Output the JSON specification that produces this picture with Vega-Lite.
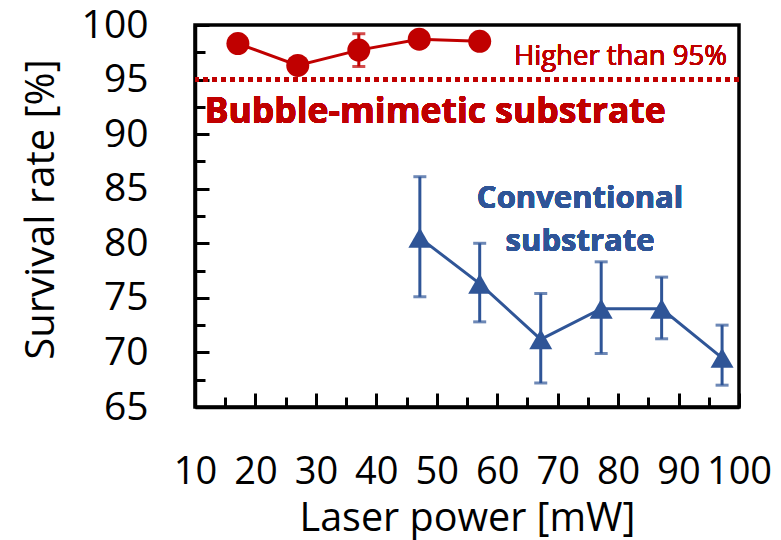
{
  "$schema": "https://vega.github.io/schema/vega-lite/v6.json",
  "width": 544,
  "height": 382,
  "autosize": {"type": "none"},
  "padding": {"left": 195, "top": 25, "right": 42, "bottom": 133},
  "background": "white",
  "config": {
    "view": {"stroke": "black", "strokeWidth": 3.5},
    "font": "Open Sans",
    "axis": {"grid": false, "labelFlush": false, "labelOverlap": false, "labelColor": "black", "titleColor": "black", "tickColor": "black", "domainColor": "black", "domainWidth": 3.5, "tickWidth": 3, "labelFont": "Open Sans", "titleFont": "Open Sans", "titleFontWeight": "normal"}
  },
  "datasets": {
    "survival": [
      {"substrate": "Bubble-mimetic", "power": 17.1, "rate": 98.3, "lo": 97.8, "hi": 98.8},
      {"substrate": "Bubble-mimetic", "power": 27.0, "rate": 96.3, "lo": 95.8, "hi": 96.8},
      {"substrate": "Bubble-mimetic", "power": 37.1, "rate": 97.7, "lo": 96.2, "hi": 99.2},
      {"substrate": "Bubble-mimetic", "power": 47.1, "rate": 98.7, "lo": 98.2, "hi": 99.2},
      {"substrate": "Bubble-mimetic", "power": 57.1, "rate": 98.5, "lo": 98.0, "hi": 99.0},
      {"substrate": "Conventional", "power": 47.2, "rate": 80.5, "lo": 75.1, "hi": 86.1},
      {"substrate": "Conventional", "power": 57.1, "rate": 76.3, "lo": 72.8, "hi": 80.0},
      {"substrate": "Conventional", "power": 67.2, "rate": 71.2, "lo": 67.2, "hi": 75.4},
      {"substrate": "Conventional", "power": 77.2, "rate": 74.0, "lo": 69.9, "hi": 78.3},
      {"substrate": "Conventional", "power": 87.2, "rate": 74.0, "lo": 71.25, "hi": 76.9},
      {"substrate": "Conventional", "power": 97.2, "rate": 69.5, "lo": 67.0, "hi": 72.5}
    ]
  },
  "data": {"name": "survival"},
  "resolve": {"axis": {"x": "independent", "y": "independent"}},
  "layer": [
    {
      "mark": {"type": "line", "strokeWidth": 3},
      "encoding": {
        "x": {"field": "power", "type": "quantitative", "scale": {"domain": [10, 100], "nice": false, "zero": false},
          "axis": {"orient": "bottom", "values": [15, 25, 35, 45, 55, 65, 75, 85, 95], "tickSize": -10, "labels": false, "domain": false, "title": null}},
        "y": {"field": "rate", "type": "quantitative", "scale": {"domain": [65, 100], "nice": false, "zero": false},
          "axis": {"orient": "left", "values": [67.5, 72.5, 77.5, 82.5, 87.5, 92.5, 97.5], "tickSize": -10, "labels": false, "domain": false, "title": null}},
        "color": {"field": "substrate", "type": "nominal", "scale": {"domain": ["Bubble-mimetic", "Conventional"], "range": ["#C00000", "#2F5597"]}, "legend": null}
      }
    },
    {
      "layer": [
        {
          "mark": {"type": "rule", "color": "#C00000", "strokeWidth": 5, "strokeDash": [5, 4]},
          "encoding": {"y": {"datum": 95, "type": "quantitative"}}
        },
        {
          "mark": {"type": "rule", "strokeWidth": 3},
          "encoding": {
            "x": {"field": "power", "type": "quantitative", "scale": {"domain": [10, 100], "nice": false, "zero": false},
              "axis": {"orient": "bottom", "values": [10, 20, 30, 40, 50, 60, 70, 80, 90, 100], "tickSize": -14, "labelFontSize": 38, "labelPadding": 60, "title": "Laser power [mW]", "titleFontSize": 39.5, "titleY": 123, "titleBaseline": "alphabetic"}},
            "y": {"field": "lo", "type": "quantitative", "scale": {"domain": [65, 100], "nice": false, "zero": false},
              "axis": {"orient": "left", "values": [65, 70, 75, 80, 85, 90, 95, 100], "tickSize": -14, "labelFontSize": 39, "labelPadding": 61, "title": "Survival rate [%]", "titleFontSize": 40, "titleX": -142, "titleY": 184, "titleBaseline": "alphabetic"}},
            "y2": {"field": "hi"},
            "color": {"field": "substrate", "type": "nominal", "scale": {"domain": ["Bubble-mimetic", "Conventional"], "range": ["#C00000", "#2F5597"]}, "legend": null}
          }
        },
        {
          "mark": {"type": "tick", "orient": "horizontal", "size": 13, "thickness": 3},
          "encoding": {
            "x": {"field": "power", "type": "quantitative"},
            "y": {"field": "lo", "type": "quantitative"},
            "color": {"field": "substrate", "type": "nominal", "legend": null}
          }
        },
        {
          "mark": {"type": "tick", "orient": "horizontal", "size": 13, "thickness": 3},
          "encoding": {
            "x": {"field": "power", "type": "quantitative"},
            "y": {"field": "hi", "type": "quantitative"},
            "color": {"field": "substrate", "type": "nominal", "legend": null}
          }
        },
        {
          "mark": {"type": "point", "filled": true, "opacity": 1, "size": 529},
          "encoding": {
            "x": {"field": "power", "type": "quantitative"},
            "y": {"field": "rate", "type": "quantitative"},
            "color": {"field": "substrate", "type": "nominal", "legend": null},
            "shape": {"field": "substrate", "type": "nominal", "scale": {"domain": ["Bubble-mimetic", "Conventional"], "range": ["circle", "triangle-up"]}, "legend": null}
          }
        },
        {
          "mark": {"type": "text", "align": "right", "baseline": "alphabetic", "fontSize": 27.5, "color": "#C00000"},
          "encoding": {"x": {"datum": 98.0}, "y": {"datum": 96.35}, "text": {"value": "Higher than 95%"}}
        },
        {
          "mark": {"type": "text", "align": "left", "baseline": "alphabetic", "fontSize": 35.5, "fontWeight": "bold", "color": "#C00000"},
          "encoding": {"x": {"datum": 11.6}, "y": {"datum": 91.0}, "text": {"value": "Bubble-mimetic substrate"}}
        },
        {
          "mark": {"type": "text", "align": "center", "baseline": "alphabetic", "fontSize": 31, "fontWeight": "bold", "color": "#2F5597"},
          "encoding": {"x": {"datum": 73.7}, "y": {"datum": 83.2}, "text": {"value": "Conventional"}}
        },
        {
          "mark": {"type": "text", "align": "center", "baseline": "alphabetic", "fontSize": 31, "fontWeight": "bold", "color": "#2F5597"},
          "encoding": {"x": {"datum": 73.7}, "y": {"datum": 79.3}, "text": {"value": "substrate"}}
        }
      ]
    }
  ]
}
